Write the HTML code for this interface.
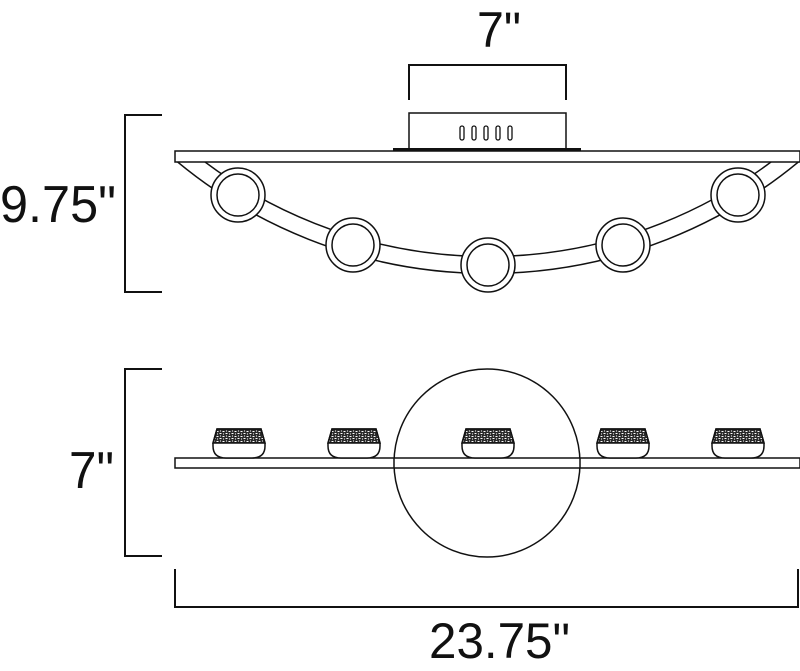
<!DOCTYPE html>
<html><head><meta charset="utf-8"><style>
html,body{margin:0;padding:0;background:#fff;}
svg{display:block}
text{font-family:"Liberation Sans",sans-serif;fill:#111;}
</style></head><body>
<svg width="800" height="671" viewBox="0 0 800 671" xmlns="http://www.w3.org/2000/svg">
<defs>
<pattern id="tex" width="6" height="5" patternUnits="userSpaceOnUse">
<rect width="6" height="5" fill="#2a2a2a"/>
<path d="M0.5 1.5 h2 M3.5 3.5 h2 M1 4 h1 M4 1 h1" stroke="#fff" stroke-width="0.9"/>
</pattern>
<clipPath id="below"><rect x="0" y="162" width="800" height="200"/></clipPath>
</defs>
<g fill="none" stroke="#111" stroke-width="2">
<path d="M409 100 V65 H566 V100"/>
<path d="M162 115 H125 V292 H162"/>
<path d="M162 369 H125 V556 H162"/>
<path d="M175 569 V607 H798 V569"/>
</g>
<text x="477" y="47" font-size="50" textLength="44" lengthAdjust="spacingAndGlyphs">7"</text>
<text x="0" y="222" font-size="52" textLength="116" lengthAdjust="spacingAndGlyphs">9.75"</text>
<text x="69" y="488" font-size="52" textLength="45" lengthAdjust="spacingAndGlyphs">7"</text>
<text x="429" y="658" font-size="50" textLength="141" lengthAdjust="spacingAndGlyphs">23.75"</text>

<g stroke="#111" stroke-width="1.5" fill="none">
<rect x="409" y="113" width="157" height="37" fill="#fff"/>
<g stroke-width="1.3">
<rect x="460" y="126" width="4" height="14" rx="2"/>
<rect x="472" y="126" width="4" height="14" rx="2"/>
<rect x="484" y="126" width="4" height="14" rx="2"/>
<rect x="496" y="126" width="4" height="14" rx="2"/>
<rect x="508" y="126" width="4" height="14" rx="2"/>
</g>
<g clip-path="url(#below)">
<circle cx="488" cy="-214" r="470.5"/>
<circle cx="488" cy="-214" r="487.5"/>
</g>
<rect x="175" y="151" width="625" height="11" fill="#fff"/>
</g>
<rect x="393" y="148" width="188" height="3" fill="#111"/>
<g stroke="#111" stroke-width="1.5" fill="#fff">
<circle cx="238" cy="195" r="27"/><circle cx="238" cy="195" r="21"/>
<circle cx="353" cy="245" r="27"/><circle cx="353" cy="245" r="21"/>
<circle cx="488" cy="265" r="27"/><circle cx="488" cy="265" r="21"/>
<circle cx="623" cy="245" r="27"/><circle cx="623" cy="245" r="21"/>
<circle cx="738" cy="195" r="27"/><circle cx="738" cy="195" r="21"/>
</g>

<g stroke="#111" stroke-width="1.5" fill="none">
<ellipse cx="487" cy="463" rx="93" ry="94"/>
<rect x="175" y="458" width="625" height="10" fill="#fff"/>
<line x1="394" y1="458" x2="394" y2="468"/>
<line x1="580" y1="458" x2="580" y2="468"/>
</g>
<g stroke="#111" stroke-width="1.5">
<g id="pod">
<path d="M217 429 H261 L265 443 V446 Q265 458 252 458 H226 Q213 458 213 446 V443 Z" fill="#fff"/>
<path d="M217 429 H261 L265 443 H213 Z" fill="url(#tex)"/>
</g>
<use href="#pod" x="115"/>
<use href="#pod" x="249"/>
<use href="#pod" x="384"/>
<use href="#pod" x="499"/>
</g>
</svg>
</body></html>
